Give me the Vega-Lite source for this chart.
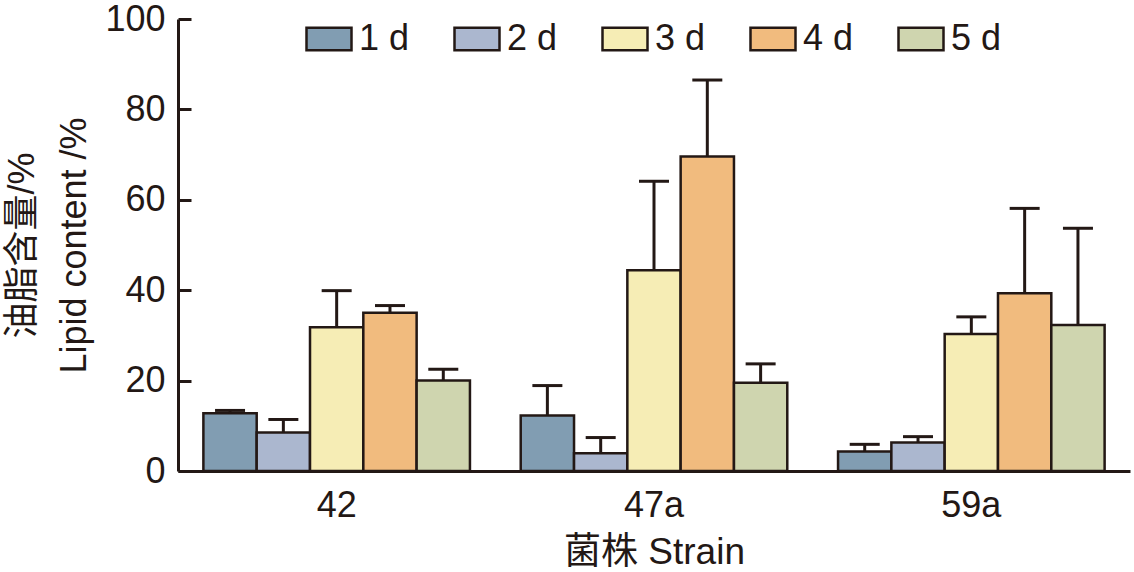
{
  "$schema": "https://vega.github.io/schema/vega-lite/v6.json",
  "width": 952,
  "height": 452,
  "autosize": {"type": "none"},
  "padding": {"left": 178, "top": 19, "right": 4, "bottom": 101},
  "background": "white",
  "config": {
    "view": {"stroke": null},
    "font": "Liberation Sans, Noto Sans CJK SC"
  },
  "data": {
    "values": [
      {"strain": "42", "day": "1 d", "value": 12.8, "upper": 13.4},
      {"strain": "42", "day": "2 d", "value": 8.5, "upper": 11.4},
      {"strain": "42", "day": "3 d", "value": 31.8, "upper": 39.9},
      {"strain": "42", "day": "4 d", "value": 35.0, "upper": 36.6},
      {"strain": "42", "day": "5 d", "value": 20.0, "upper": 22.5},
      {"strain": "47a", "day": "1 d", "value": 12.3, "upper": 18.9},
      {"strain": "47a", "day": "2 d", "value": 3.9, "upper": 7.4},
      {"strain": "47a", "day": "3 d", "value": 44.4, "upper": 64.1},
      {"strain": "47a", "day": "4 d", "value": 69.6, "upper": 86.5},
      {"strain": "47a", "day": "5 d", "value": 19.5, "upper": 23.7},
      {"strain": "59a", "day": "1 d", "value": 4.3, "upper": 5.9},
      {"strain": "59a", "day": "2 d", "value": 6.3, "upper": 7.6},
      {"strain": "59a", "day": "3 d", "value": 30.3, "upper": 34.1},
      {"strain": "59a", "day": "4 d", "value": 39.3, "upper": 58.1},
      {"strain": "59a", "day": "5 d", "value": 32.3, "upper": 53.7}
    ]
  },
  "encoding": {
    "x": {
      "field": "strain",
      "type": "nominal",
      "sort": ["42", "47a", "59a"],
      "scale": {"paddingInner": 0.16, "paddingOuter": 0.08},
      "axis": {
        "ticks": false,
        "labelAngle": 0,
        "labelFontSize": 36,
        "labelColor": "#231815",
        "labelPadding": 17,
        "domainColor": "#231815",
        "domainWidth": 3,
        "title": "菌株 Strain",
        "titleFontSize": 37,
        "titleFontWeight": "normal",
        "titleColor": "#231815",
        "titlePadding": 11
      }
    },
    "xOffset": {
      "field": "day",
      "type": "nominal",
      "scale": {"paddingInner": 0, "paddingOuter": 0}
    }
  },
  "layer": [
    {
      "mark": {"type": "bar", "stroke": "#231815", "strokeWidth": 2.5},
      "encoding": {
        "y": {
          "field": "value",
          "type": "quantitative",
          "scale": {"domain": [0, 100]},
          "axis": {
            "grid": false,
            "values": [0, 20, 40, 60, 80, 100],
            "tickSize": -13,
            "tickWidth": 3,
            "tickColor": "#231815",
            "domainColor": "#231815",
            "domainWidth": 3,
            "labelFontSize": 36,
            "labelColor": "#231815",
            "labelPadding": 26,
            "title": ["油脂含量/%", "Lipid content /%"],
            "titleFontSize": 36,
            "titleFontWeight": "normal",
            "titleColor": "#231815",
            "titleLineHeight": 52,
            "titlePadding": 11
          }
        },
        "color": {
          "field": "day",
          "type": "nominal",
          "scale": {
            "domain": ["1 d", "2 d", "3 d", "4 d", "5 d"],
            "range": ["#819db2", "#abb7cf", "#f6edb5", "#f1bb7e", "#cfd5af"]
          },
          "legend": {
            "orient": "none",
            "legendX": 127,
            "legendY": -4,
            "direction": "horizontal",
            "title": null,
            "padding": 0,
            "symbolType": "M-1,-0.5H1V0.5H-1Z",
            "symbolSize": 2025,
            "symbolStrokeColor": "#231815",
            "symbolStrokeWidth": 2.5,
            "symbolOpacity": 1,
            "labelFontSize": 36,
            "labelColor": "#231815",
            "labelOffset": 6,
            "columnPadding": 39
          }
        }
      }
    },
    {
      "mark": {"type": "rule", "color": "#231815", "strokeWidth": 3},
      "encoding": {
        "y": {"field": "value", "type": "quantitative"},
        "y2": {"field": "upper"}
      }
    },
    {
      "mark": {"type": "tick", "color": "#231815", "thickness": 3, "size": 30, "orient": "horizontal", "opacity": 1},
      "encoding": {
        "y": {"field": "upper", "type": "quantitative"}
      }
    }
  ]
}
